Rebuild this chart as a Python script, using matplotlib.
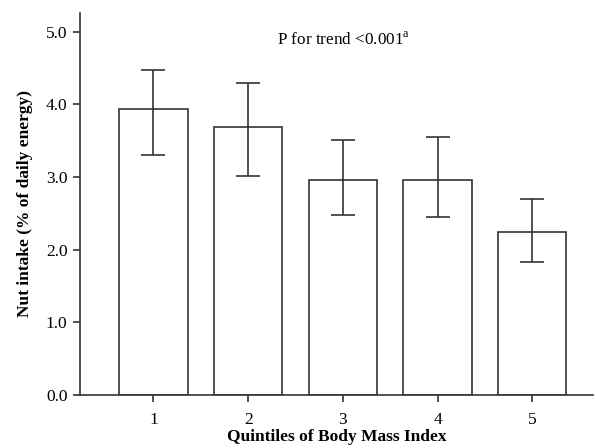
import numpy as np
from matplotlib import pyplot as plt

# Quintiles of BMI and nut intake (% of daily energy)
quintiles = [1, 2, 3, 4, 5]
means = [3.93, 3.69, 2.96, 2.96, 2.25]
upper = [4.48, 4.29, 3.51, 3.55, 2.70]
lower = [3.30, 3.02, 2.48, 2.45, 1.83]
ytick_vals = [0.0, 1.0, 2.0, 3.0, 4.0, 5.0]

plt.rcParams['font.family'] = ['Liberation Serif', 'DejaVu Serif']
plt.rcParams['mathtext.fontset'] = 'custom'
plt.rcParams['mathtext.rm'] = 'Liberation Serif'

fig = plt.figure(figsize=(5.95, 4.48), dpi=100)
ax = fig.add_axes([0.1345, 0.1183, 0.862, 0.853])

err = [np.array(means) - np.array(lower), np.array(upper) - np.array(means)]
ax.bar(quintiles, means, width=0.72, color='white', edgecolor='#333333', linewidth=1.2)
ax.errorbar(quintiles, means, yerr=err, fmt='none', ecolor='#333333',
            elinewidth=1.2, capsize=8.3, capthick=1.2)

ax.set_xlim(0.225, 5.64)
ax.set_ylim(0, 5.26)
ax.set_xticks(quintiles)
ax.set_yticks(ytick_vals)
ax.set_yticklabels(['%.1f' % v for v in ytick_vals])
ax.tick_params(direction='out', length=5, width=1.2, color='#333333', labelsize=12.5)
ax.tick_params(axis='x', pad=7)
ax.tick_params(axis='y', pad=4)

for s in ['top', 'right']:
    ax.spines[s].set_visible(False)
for s in ['left', 'bottom']:
    ax.spines[s].set_color('#333333')
    ax.spines[s].set_linewidth(1.2)

ax.set_xlabel('Quintiles of Body Mass Index', fontsize=12.5, fontweight='bold', labelpad=1)
ax.set_ylabel('Nut intake (% of daily energy)', fontsize=12.5, fontweight='bold', labelpad=9)

ax.text(0.384, 0.93, 'P for trend <0.001$^{\\mathrm{a}}$', transform=ax.transAxes,
        fontsize=12.3, va='center', ha='left')

fig.savefig('out.png', dpi=100)
